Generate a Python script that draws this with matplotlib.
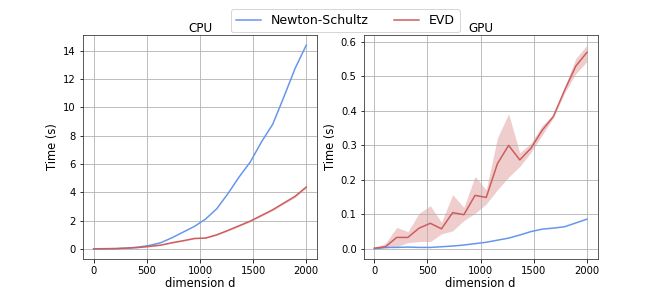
import numpy as np
import matplotlib
matplotlib.use("Agg")
import matplotlib.pyplot as plt

# problem sizes (20 evenly spaced dimensions)
dims = np.linspace(0, 2000, 20)

# CPU timings (s)
cpu_ns = [0.0, 0.0, 0.01, 0.05, 0.12, 0.24, 0.43, 0.78, 1.18, 1.58,
          2.1, 2.83, 3.9, 5.08, 6.14, 7.56, 8.8, 10.74, 12.75, 14.4]
cpu_evd = [0.0, 0.01, 0.02, 0.05, 0.09, 0.17, 0.26, 0.43, 0.57, 0.73,
           0.76, 0.99, 1.3, 1.63, 1.96, 2.36, 2.76, 3.24, 3.71, 4.37]
cpu_evd_lo = [0.0, 0.0, 0.01, 0.04, 0.08, 0.15, 0.24, 0.4, 0.54, 0.7,
              0.73, 0.95, 1.26, 1.58, 1.91, 2.3, 2.7, 3.17, 3.63, 4.28]
cpu_evd_hi = [0.0, 0.02, 0.03, 0.06, 0.1, 0.19, 0.28, 0.46, 0.6, 0.76,
              0.8, 1.03, 1.34, 1.68, 2.01, 2.42, 2.82, 3.31, 3.79, 4.46]

# GPU timings (s)
gpu_ns = [0.0, 0.004, 0.004, 0.005, 0.004, 0.004, 0.006, 0.008, 0.011, 0.015,
          0.019, 0.025, 0.031, 0.04, 0.05, 0.057, 0.06, 0.064, 0.075, 0.086]
gpu_evd = [0.002, 0.006, 0.033, 0.033, 0.06, 0.074, 0.058, 0.105, 0.099, 0.155,
           0.149, 0.247, 0.30, 0.258, 0.292, 0.344, 0.384, 0.46, 0.53, 0.57]
gpu_evd_lo = [0.0, 0.002, 0.006, 0.018, 0.021, 0.021, 0.043, 0.052, 0.082, 0.103,
              0.13, 0.171, 0.208, 0.239, 0.28, 0.33, 0.38, 0.452, 0.508, 0.543]
gpu_evd_hi = [0.002, 0.016, 0.062, 0.05, 0.103, 0.125, 0.077, 0.157, 0.12, 0.21,
              0.171, 0.322, 0.392, 0.278, 0.307, 0.358, 0.389, 0.468, 0.552, 0.591]

ns_color = 'cornflowerblue'
evd_color = 'indianred'

DPI = 72
fig, axes = plt.subplots(1, 2, figsize=(664 / DPI, 291 / DPI), dpi=DPI)

panels = [
    (axes[0], 'CPU', cpu_ns, cpu_evd, cpu_evd_lo, cpu_evd_hi),
    (axes[1], 'GPU', gpu_ns, gpu_evd, gpu_evd_lo, gpu_evd_hi),
]

for ax, title, ns, evd, lo, hi in panels:
    ax.plot(dims, ns, color=ns_color, label='Newton-Schultz')
    ax.plot(dims, evd, color=evd_color, label='EVD')
    ax.fill_between(dims, lo, hi, color=evd_color, alpha=0.3, lw=0)
    ax.set_title(title, fontsize=12, pad=1)
    ax.set_xlabel('dimension d', fontsize=11.5, labelpad=1.5)
    ax.set_ylabel('Time (s)', fontsize=11.5)
    ax.set_xticks([0, 500, 1000, 1500, 2000])
    ax.grid(True)
    for s in ax.spines.values():
        s.set_color('#333333')

axes[0].set_yticks(np.arange(0, 15, 2))

handles, labels = axes[0].get_legend_handles_labels()
fig.legend(handles, labels, loc='upper center', ncol=2, fontsize=12.5,
           bbox_to_anchor=(0.52, 0.99))

fig.savefig('out.png', dpi=DPI)
